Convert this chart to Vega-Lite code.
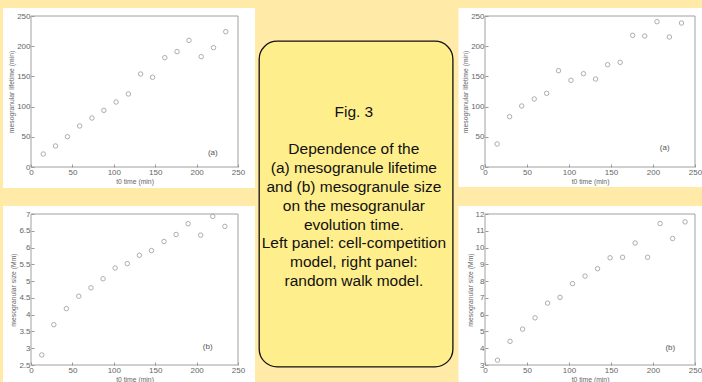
{
  "$schema": "https://vega.github.io/schema/vega-lite/v6.json",
  "background": "#FFEAA8",
  "padding": {"left": 3, "top": 8, "right": 0, "bottom": 0},
  "spacing": 3,
  "config": {
    "view": {"stroke": null},
    "font": "Liberation Sans",
    "axis": {
      "grid": false, "domain": false, "tickSize": -3, "tickColor": "#999", "labelPadding": 4,
      "labelFontSize": 8, "labelColor": "#666", "titleFontSize": 6.8, "titleFontWeight": "normal",
      "titleColor": "#666", "titlePadding": 2, "labelFlush": false, "labelOverlap": false
    }
  },
  "hconcat": [
    {
      "vconcat": [
        {
          "width": 207, "height": 151,
          "data": {"values": [
            {"t": 14.8, "v": 21.5}, {"t": 29.6, "v": 34.8}, {"t": 44, "v": 50.2}, {"t": 58.8, "v": 67.9},
            {"t": 73.6, "v": 81.1}, {"t": 88, "v": 93.8}, {"t": 102.8, "v": 107.6}, {"t": 117.6, "v": 120.9},
            {"t": 132.4, "v": 154}, {"t": 146.8, "v": 148.5}, {"t": 161.6, "v": 181}, {"t": 176.4, "v": 191},
            {"t": 190.8, "v": 209.7}, {"t": 205.6, "v": 182.7}, {"t": 220.4, "v": 197.6}, {"t": 235.2, "v": 224}
          ]},
          "layer": [
            {"data": {"values": [{}]}, "mark": {"type": "rect", "color": "white"},
             "encoding": {
               "x": {"datum": -33.8, "type": "quantitative", "scale": {"domain": [0, 250]}, "axis": {"title": "t0 time (min)", "values": [0, 50, 100, 150, 200, 250], "zindex": 2}},
               "x2": {"datum": 270.5},
               "y": {"datum": -34.8, "type": "quantitative", "scale": {"domain": [0, 250]}, "axis": {"title": "mesogranular lifetime (min)", "values": [0, 50, 100, 150, 200, 250], "zindex": 2}},
               "y2": {"datum": 263.2}}},
            {"mark": {"type": "point", "filled": false, "size": 20, "stroke": "#8c8c8c", "strokeWidth": 1},
             "encoding": {
               "x": {"field": "t", "type": "quantitative", "scale": {"domain": [0, 250]}, "axis": {"title": "t0 time (min)", "values": [0, 50, 100, 150, 200, 250], "zindex": 2}},
               "y": {"field": "v", "type": "quantitative", "scale": {"domain": [0, 250]}, "axis": {"title": "mesogranular lifetime (min)", "values": [0, 50, 100, 150, 200, 250], "zindex": 2}}}},
            {"data": {"values": [{"lab": "(a)"}]}, "mark": {"type": "text", "fontSize": 8, "color": "#555"},
             "encoding": {
               "x": {"datum": 219.6, "type": "quantitative", "scale": {"domain": [0, 250]}, "axis": {"title": "t0 time (min)", "values": [0, 50, 100, 150, 200, 250], "zindex": 2}},
               "y": {"datum": 23.7, "type": "quantitative", "scale": {"domain": [0, 250]}, "axis": {"title": "mesogranular lifetime (min)", "values": [0, 50, 100, 150, 200, 250], "zindex": 2}},
               "text": {"field": "lab"}}},
            {"data": {"values": [{}]}, "mark": {"type": "rect", "fill": null, "stroke": "#a0a0a0", "strokeWidth": 1},
             "encoding": {
               "x": {"datum": 0, "type": "quantitative", "scale": {"domain": [0, 250]}, "axis": {"title": "t0 time (min)", "values": [0, 50, 100, 150, 200, 250], "zindex": 2}},
               "x2": {"datum": 250},
               "y": {"datum": 0, "type": "quantitative", "scale": {"domain": [0, 250]}, "axis": {"title": "mesogranular lifetime (min)", "values": [0, 50, 100, 150, 200, 250], "zindex": 2}},
               "y2": {"datum": 250}}}
          ]
        },
        {
          "width": 207, "height": 151,
          "data": {"values": [
            {"t": 13, "v": 2.8}, {"t": 27.6, "v": 3.7}, {"t": 42.7, "v": 4.18}, {"t": 57.7, "v": 4.55},
            {"t": 72.4, "v": 4.8}, {"t": 87, "v": 5.07}, {"t": 101.6, "v": 5.39}, {"t": 116.3, "v": 5.52},
            {"t": 130.9, "v": 5.77}, {"t": 145.5, "v": 5.91}, {"t": 160.6, "v": 6.18}, {"t": 175.2, "v": 6.39},
            {"t": 189.8, "v": 6.71}, {"t": 204.9, "v": 6.37}, {"t": 219.5, "v": 6.93}, {"t": 234.1, "v": 6.63}
          ]},
          "layer": [
            {"data": {"values": [{}]}, "mark": {"type": "rect", "color": "white"},
             "encoding": {
               "x": {"datum": -33.8, "type": "quantitative", "scale": {"domain": [0, 250]}, "axis": {"title": "t0 time (min)", "values": [0, 50, 100, 150, 200, 250], "zindex": 2}},
               "x2": {"datum": 270.5},
               "y": {"datum": 1.9, "type": "quantitative", "scale": {"domain": [2.5, 7], "zero": false}, "axis": {"title": "mesogranular size (Mm)", "format": "~g", "values": [2.5, 3, 3.5, 4, 4.5, 5, 5.5, 6, 6.5, 7], "zindex": 2}},
               "y2": {"datum": 7.24}}},
            {"mark": {"type": "point", "filled": false, "size": 20, "stroke": "#8c8c8c", "strokeWidth": 1},
             "encoding": {
               "x": {"field": "t", "type": "quantitative", "scale": {"domain": [0, 250]}, "axis": {"title": "t0 time (min)", "values": [0, 50, 100, 150, 200, 250], "zindex": 2}},
               "y": {"field": "v", "type": "quantitative", "scale": {"domain": [2.5, 7], "zero": false}, "axis": {"title": "mesogranular size (Mm)", "format": "~g", "values": [2.5, 3, 3.5, 4, 4.5, 5, 5.5, 6, 6.5, 7], "zindex": 2}}}},
            {"data": {"values": [{"lab": "(b)"}]}, "mark": {"type": "text", "fontSize": 8, "color": "#555"},
             "encoding": {
               "x": {"datum": 213.4, "type": "quantitative", "scale": {"domain": [0, 250]}, "axis": {"title": "t0 time (min)", "values": [0, 50, 100, 150, 200, 250], "zindex": 2}},
               "y": {"datum": 3.04, "type": "quantitative", "scale": {"domain": [2.5, 7], "zero": false}, "axis": {"title": "mesogranular size (Mm)", "format": "~g", "values": [2.5, 3, 3.5, 4, 4.5, 5, 5.5, 6, 6.5, 7], "zindex": 2}},
               "text": {"field": "lab"}}},
            {"data": {"values": [{}]}, "mark": {"type": "rect", "fill": null, "stroke": "#a0a0a0", "strokeWidth": 1},
             "encoding": {
               "x": {"datum": 0, "type": "quantitative", "scale": {"domain": [0, 250]}, "axis": {"title": "t0 time (min)", "values": [0, 50, 100, 150, 200, 250], "zindex": 2}},
               "x2": {"datum": 250},
               "y": {"datum": 2.5, "type": "quantitative", "scale": {"domain": [2.5, 7], "zero": false}, "axis": {"title": "mesogranular size (Mm)", "format": "~g", "values": [2.5, 3, 3.5, 4, 4.5, 5, 5.5, 6, 6.5, 7], "zindex": 2}},
               "y2": {"datum": 7}}}
          ]
        }
      ],
      "spacing": 47,
      "bounds": "flush"
    },
    {
      "vconcat": [
        {"width": 196, "height": 25, "view": {"fill": "#FFEAA8"}, "data": {"values": []}, "mark": "point"},
        {
          "width": 193.7, "height": 325.7,
          "view": {"fill": "#FFEE8C", "stroke": "#111111", "strokeWidth": 1.3, "cornerRadius": 18},
          "data": {"values": [
            {"line": 0, "text": "Fig. 3"},
            {"line": 2, "text": "Dependence of  the"},
            {"line": 3, "text": "(a)  mesogranule lifetime"},
            {"line": 4, "text": "and (b) mesogranule size"},
            {"line": 5, "text": "on the mesogranular"},
            {"line": 6, "text": "evolution time."},
            {"line": 7, "text": "Left panel: cell-competition"},
            {"line": 8, "text": "model, right panel:"},
            {"line": 9, "text": "random walk model."}
          ]},
          "mark": {"type": "text", "fontSize": 15.5, "color": "#111111", "baseline": "middle", "align": "center", "dx": -2},
          "encoding": {
            "y": {"field": "line", "type": "quantitative", "scale": {"domain": [-3.76, 13.56], "reverse": true, "nice": false, "zero": false}, "axis": null},
            "text": {"field": "text"}
          }
        }
      ],
      "spacing": 0,
      "bounds": "flush"
    },
    {
      "vconcat": [
        {
          "width": 210, "height": 151,
          "data": {"values": [
            {"t": 14.4, "v": 38.1}, {"t": 29.3, "v": 83.3}, {"t": 43.7, "v": 101}, {"t": 58.6, "v": 112.6},
            {"t": 73.4, "v": 122}, {"t": 87.5, "v": 159.5}, {"t": 102.3, "v": 143.5}, {"t": 117.2, "v": 154.5},
            {"t": 131.6, "v": 145.7}, {"t": 146, "v": 169.4}, {"t": 160.9, "v": 173.3}, {"t": 175.8, "v": 218},
            {"t": 190.2, "v": 216.9}, {"t": 204.7, "v": 240.6}, {"t": 219.5, "v": 215.2}, {"t": 233.9, "v": 238.4}
          ]},
          "layer": [
            {"data": {"values": [{}]}, "mark": {"type": "rect", "color": "white"},
             "encoding": {
               "x": {"datum": -31.5, "type": "quantitative", "scale": {"domain": [0, 250]}, "axis": {"title": "t0 time (min)", "values": [0, 50, 100, 150, 200, 250], "zindex": 2}},
               "x2": {"datum": 262.5},
               "y": {"datum": -33.1, "type": "quantitative", "scale": {"domain": [0, 250]}, "axis": {"title": "mesogranular lifetime (min)", "values": [0, 50, 100, 150, 200, 250], "zindex": 2}},
               "y2": {"datum": 263.2}}},
            {"mark": {"type": "point", "filled": false, "size": 20, "stroke": "#8c8c8c", "strokeWidth": 1},
             "encoding": {
               "x": {"field": "t", "type": "quantitative", "scale": {"domain": [0, 250]}, "axis": {"title": "t0 time (min)", "values": [0, 50, 100, 150, 200, 250], "zindex": 2}},
               "y": {"field": "v", "type": "quantitative", "scale": {"domain": [0, 250]}, "axis": {"title": "mesogranular lifetime (min)", "values": [0, 50, 100, 150, 200, 250], "zindex": 2}}}},
            {"data": {"values": [{"lab": "(a)"}]}, "mark": {"type": "text", "fontSize": 8, "color": "#555"},
             "encoding": {
               "x": {"datum": 213.9, "type": "quantitative", "scale": {"domain": [0, 250]}, "axis": {"title": "t0 time (min)", "values": [0, 50, 100, 150, 200, 250], "zindex": 2}},
               "y": {"datum": 30.9, "type": "quantitative", "scale": {"domain": [0, 250]}, "axis": {"title": "mesogranular lifetime (min)", "values": [0, 50, 100, 150, 200, 250], "zindex": 2}},
               "text": {"field": "lab"}}},
            {"data": {"values": [{}]}, "mark": {"type": "rect", "fill": null, "stroke": "#a0a0a0", "strokeWidth": 1},
             "encoding": {
               "x": {"datum": 0, "type": "quantitative", "scale": {"domain": [0, 250]}, "axis": {"title": "t0 time (min)", "values": [0, 50, 100, 150, 200, 250], "zindex": 2}},
               "x2": {"datum": 250},
               "y": {"datum": 0, "type": "quantitative", "scale": {"domain": [0, 250]}, "axis": {"title": "mesogranular lifetime (min)", "values": [0, 50, 100, 150, 200, 250], "zindex": 2}},
               "y2": {"datum": 250}}}
          ]
        },
        {
          "width": 210, "height": 151,
          "data": {"values": [
            {"t": 14.9, "v": 3.29}, {"t": 29.8, "v": 4.41}, {"t": 44.7, "v": 5.14}, {"t": 59.6, "v": 5.81},
            {"t": 74.5, "v": 6.69}, {"t": 89.3, "v": 7.03}, {"t": 104.2, "v": 7.85}, {"t": 119.1, "v": 8.3},
            {"t": 134, "v": 8.74}, {"t": 148.9, "v": 9.39}, {"t": 163.8, "v": 9.42}, {"t": 178.7, "v": 10.27},
            {"t": 193.6, "v": 9.42}, {"t": 208.5, "v": 11.43}, {"t": 223.4, "v": 10.54}, {"t": 238.2, "v": 11.53}
          ]},
          "layer": [
            {"data": {"values": [{}]}, "mark": {"type": "rect", "color": "white"},
             "encoding": {
               "x": {"datum": -31.5, "type": "quantitative", "scale": {"domain": [0, 250]}, "axis": {"title": "t0 time (min)", "values": [0, 50, 100, 150, 200, 250], "zindex": 2}},
               "x2": {"datum": 262.5},
               "y": {"datum": 1.81, "type": "quantitative", "scale": {"domain": [3, 12], "zero": false}, "axis": {"title": "mesogranular size (Mm)", "format": "~g", "values": [3, 4, 5, 6, 7, 8, 9, 10, 11, 12], "zindex": 2}},
               "y2": {"datum": 12.48}}},
            {"mark": {"type": "point", "filled": false, "size": 20, "stroke": "#8c8c8c", "strokeWidth": 1},
             "encoding": {
               "x": {"field": "t", "type": "quantitative", "scale": {"domain": [0, 250]}, "axis": {"title": "t0 time (min)", "values": [0, 50, 100, 150, 200, 250], "zindex": 2}},
               "y": {"field": "v", "type": "quantitative", "scale": {"domain": [3, 12], "zero": false}, "axis": {"title": "mesogranular size (Mm)", "format": "~g", "values": [3, 4, 5, 6, 7, 8, 9, 10, 11, 12], "zindex": 2}}}},
            {"data": {"values": [{"lab": "(b)"}]}, "mark": {"type": "text", "fontSize": 8, "color": "#555"},
             "encoding": {
               "x": {"datum": 220.6, "type": "quantitative", "scale": {"domain": [0, 250]}, "axis": {"title": "t0 time (min)", "values": [0, 50, 100, 150, 200, 250], "zindex": 2}},
               "y": {"datum": 4.0, "type": "quantitative", "scale": {"domain": [3, 12], "zero": false}, "axis": {"title": "mesogranular size (Mm)", "format": "~g", "values": [3, 4, 5, 6, 7, 8, 9, 10, 11, 12], "zindex": 2}},
               "text": {"field": "lab"}}},
            {"data": {"values": [{}]}, "mark": {"type": "rect", "fill": null, "stroke": "#a0a0a0", "strokeWidth": 1},
             "encoding": {
               "x": {"datum": 0, "type": "quantitative", "scale": {"domain": [0, 250]}, "axis": {"title": "t0 time (min)", "values": [0, 50, 100, 150, 200, 250], "zindex": 2}},
               "x2": {"datum": 250},
               "y": {"datum": 3, "type": "quantitative", "scale": {"domain": [3, 12], "zero": false}, "axis": {"title": "mesogranular size (Mm)", "format": "~g", "values": [3, 4, 5, 6, 7, 8, 9, 10, 11, 12], "zindex": 2}},
               "y2": {"datum": 12}}}
          ]
        }
      ],
      "spacing": 47,
      "bounds": "flush"
    }
  ]
}
